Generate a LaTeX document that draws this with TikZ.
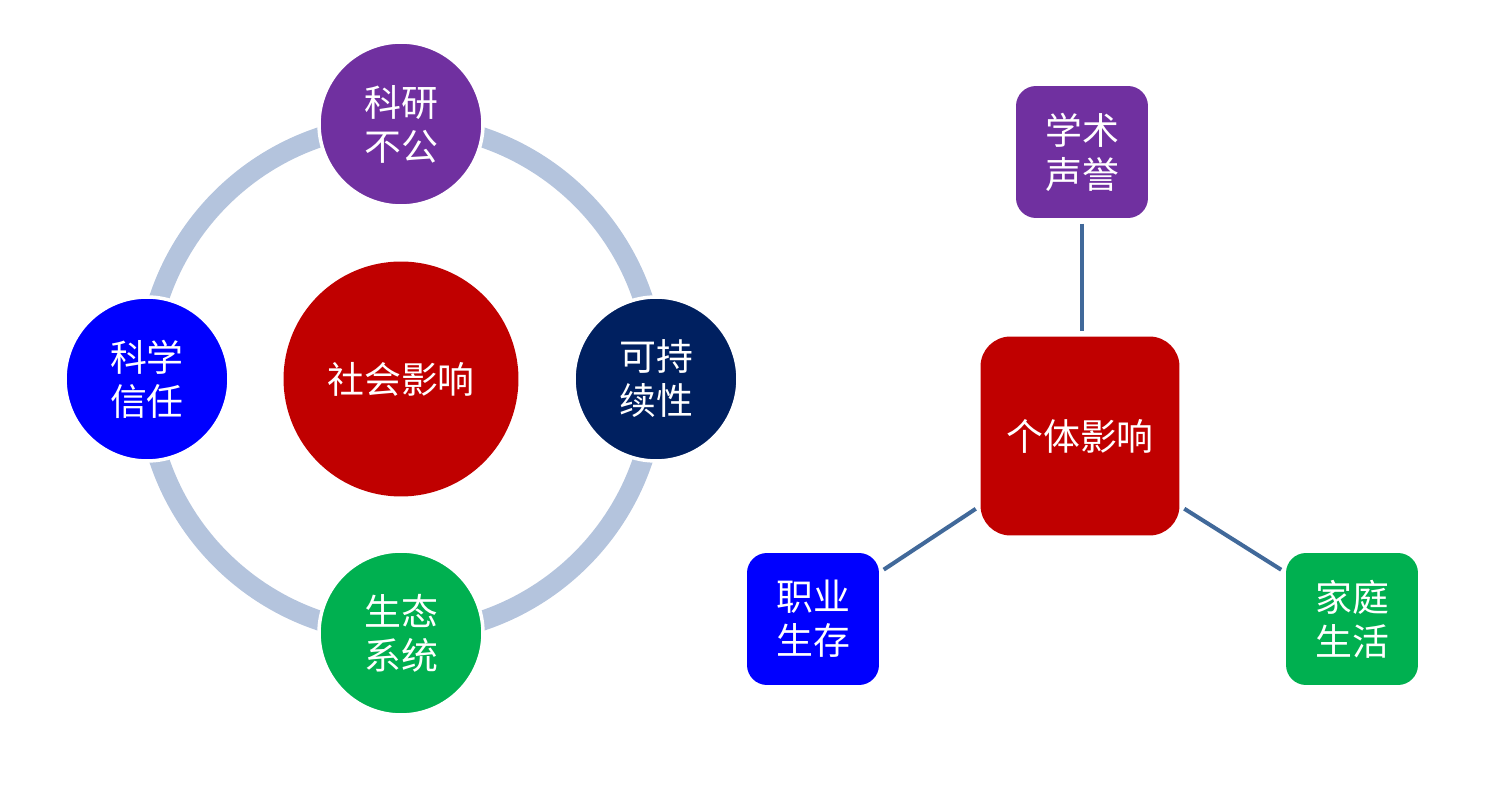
\documentclass[tikz,border=0pt]{standalone}
\usepackage{fontspec}
\newfontfamily\cjk{Noto Sans CJK SC}
\definecolor{ringblue}{HTML}{B4C4DD}
\definecolor{linkblue}{HTML}{41699A}
\definecolor{tpurple}{HTML}{7030A0}
\definecolor{tblue}{HTML}{0000FF}
\definecolor{tnavy}{HTML}{002060}
\definecolor{tgreen}{HTML}{00B050}
\definecolor{tred}{HTML}{C00000}

\begin{document}
\begin{tikzpicture}[x=0.02cm,y=-0.02cm]
  \useasboundingbox (0,0) rectangle (1489,803);
  \tikzstyle{Ball}=[circle,draw=white,line width=2pt,minimum size=3.28cm,
    text=white,align=center,font=\cjk\fontsize{21}{25}\selectfont]
  \tikzstyle{Box}=[rectangle,rounded corners=0.4cm,minimum size=2.64cm,
    text=white,align=center,font=\cjk\fontsize{21}{25}\selectfont]
  \tikzstyle{Link}=[linkblue,line width=2.3pt,shorten <=3pt,shorten >=3pt]

  % left: social impact
  \draw [ringblue,line width=0.4cm] (401,379) circle [radius=5.1cm];
  \node [Ball,fill=tred,draw=none,minimum size=4.7cm] (society) at (401,379) {社会影响};
  \node [Ball,fill=tpurple] (misconduct) at (401,124) {科研\\不公};
  \node [Ball,fill=tnavy] (sustain) at (656,379) {可持\\续性};
  \node [Ball,fill=tgreen] (ecosystem) at (401,633) {生态\\系统};
  \node [Ball,fill=tblue] (trust) at (147,379) {科学\\信任};

  % right: individual impact
  \node [Box,fill=tred,minimum size=3.98cm,rounded corners=0.6cm] (person) at (1080,436) {个体影响};
  \node [Box,fill=tpurple] (reputation) at (1082,152) {学术\\声誉};
  \node [Box,fill=tblue] (career) at (813,619) {职业\\生存};
  \node [Box,fill=tgreen] (family) at (1352,619) {家庭\\生活};

  \draw [Link] (reputation) -- (reputation|-person.north);
  \draw [Link] (career.35) -- (person.215);
  \draw [Link] (person.325) -- (family.145);

\end{tikzpicture}
\end{document}
